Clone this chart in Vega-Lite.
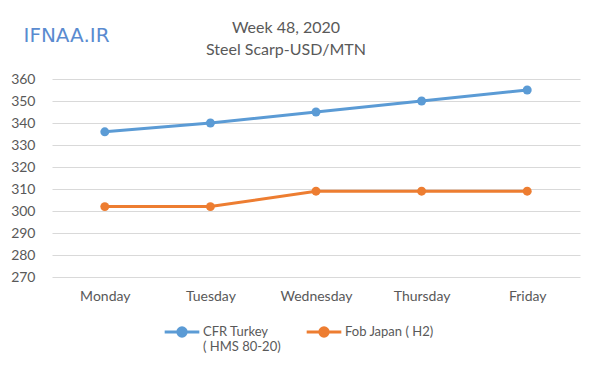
{
  "$schema": "https://vega.github.io/schema/vega-lite/v6.json",
  "autosize": "none",
  "width": 528,
  "height": 198,
  "padding": {"left": 52, "top": 79, "right": 20, "bottom": 99},
  "background": "white",
  "title": {
    "text": ["Week 48, 2020", "Steel Scarp-USD/MTN"],
    "anchor": "middle",
    "dx": -30,
    "offset": -33,
    "font": "Lato",
    "fontSize": 16,
    "fontWeight": "normal",
    "color": "#595959",
    "lineHeight": 22
  },
  "data": {
    "values": [
      {"day": "Monday", "series": "CFR Turkey|( HMS 80-20)", "value": 336},
      {"day": "Tuesday", "series": "CFR Turkey|( HMS 80-20)", "value": 340},
      {"day": "Wednesday", "series": "CFR Turkey|( HMS 80-20)", "value": 345},
      {"day": "Thursday", "series": "CFR Turkey|( HMS 80-20)", "value": 350},
      {"day": "Friday", "series": "CFR Turkey|( HMS 80-20)", "value": 355},
      {"day": "Monday", "series": "Fob Japan ( H2)", "value": 302},
      {"day": "Tuesday", "series": "Fob Japan ( H2)", "value": 302},
      {"day": "Wednesday", "series": "Fob Japan ( H2)", "value": 309},
      {"day": "Thursday", "series": "Fob Japan ( H2)", "value": 309},
      {"day": "Friday", "series": "Fob Japan ( H2)", "value": 309}
    ]
  },
  "mark": {"type": "line", "point": {"size": 80, "filled": true, "opacity": 1}, "strokeWidth": 3},
  "encoding": {
    "x": {
      "field": "day",
      "type": "ordinal",
      "sort": ["Monday", "Tuesday", "Wednesday", "Thursday", "Friday"],
      "scale": {"type": "point", "padding": 0.5},
      "axis": {
        "title": null,
        "labelAngle": 0,
        "domain": false,
        "ticks": false,
        "grid": false,
        "labelPadding": 12,
        "labelFont": "Lato",
        "labelFontSize": 14,
        "labelColor": "#595959"
      }
    },
    "y": {
      "field": "value",
      "type": "quantitative",
      "scale": {"domain": [270, 360], "nice": false, "zero": false},
      "axis": {
        "values": [270, 280, 290, 300, 310, 320, 330, 340, 350, 360],
        "title": "IFNAA.IR",
        "titleAngle": 0,
        "titleX": -29,
        "titleY": -44,
        "titleAlign": "left",
        "titleBaseline": "middle",
        "titleFont": "Verdana, DejaVu Sans",
        "titleFontSize": 20,
        "titleFontWeight": "normal",
        "titleColor": "#5a8bd0",
        "domain": false,
        "ticks": false,
        "labelPadding": 17,
        "labelFont": "Lato",
        "labelFontSize": 14,
        "labelColor": "#595959",
        "gridColor": "#d9d9d9",
        "gridWidth": 1
      }
    },
    "color": {
      "field": "series",
      "type": "nominal",
      "scale": {"range": ["#5b9bd5", "#ed7d31"]},
      "legend": {
        "title": null,
        "orient": "none",
        "direction": "horizontal",
        "legendX": 111,
        "legendY": 234,
        "symbolType": "M-1,0H1M0.24,0A0.24,0.24,0,1,1,-0.24,0A0.24,0.24,0,1,1,0.24,0",
        "symbolSize": 1200,
        "symbolStrokeWidth": 3,
        "labelExpr": "datum.label == 'Fob Japan ( H2)' ? ['Fob Japan ( H2)', ' '] : split(datum.label, '|')",
        "labelFont": "Lato",
        "labelFontSize": 13,
        "labelColor": "#595959",
        "labelBaseline": "middle",
        "labelOffset": 2,
        "labelLineHeight": 20,
        "columnPadding": 19,
        "labelLimit": 200
      }
    }
  },
  "config": {
    "view": {"stroke": null}
  }
}
